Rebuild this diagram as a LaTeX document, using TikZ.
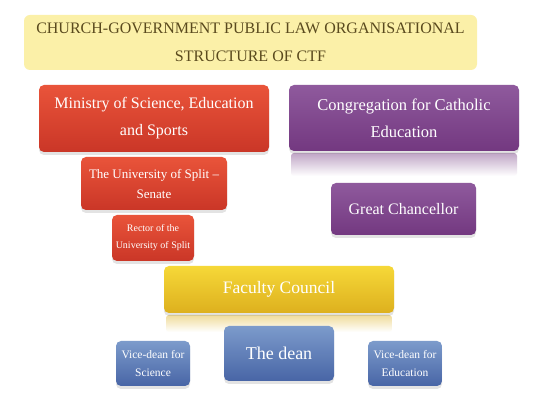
\documentclass[tikz,border=0pt]{standalone}
\usepackage{fontspec}
\setmainfont{Liberation Serif}
\usetikzlibrary{shadows}
\definecolor{titlefill}{HTML}{FBF0A8}
\definecolor{titletext}{HTML}{5A4A1E}
\definecolor{redtop}{HTML}{E9543A}
\definecolor{redbot}{HTML}{CA3627}
\definecolor{purtop}{HTML}{8F5A9D}
\definecolor{purbot}{HTML}{733880}
\definecolor{yeltop}{HTML}{F6D838}
\definecolor{yelbot}{HTML}{DDB01E}
\definecolor{blutop}{HTML}{7C9BCB}
\definecolor{blubot}{HTML}{4865A6}
\tikzset{
  box/.style={rounded corners=5pt, align=center, text=white, inner sep=0pt,
    drop shadow={opacity=0.22, shadow xshift=0pt, shadow yshift=-3pt}},
  redbox/.style={box, top color=redtop, bottom color=redbot},
  purbox/.style={box, top color=purtop, bottom color=purbot},
  yelbox/.style={box, top color=yeltop, bottom color=yelbot},
  blubox/.style={box, top color=blutop, bottom color=blubot}
}
\begin{document}
\begin{tikzpicture}[x=1pt, y=-1pt]
  \useasboundingbox[fill=white] (0,0) rectangle (555,411);
  % title
  \node[rounded corners=6pt, fill=titlefill, text=titletext, align=center,
    minimum width=453pt, minimum height=55pt, inner sep=0pt,
    font=\fontsize{16}{28}\selectfont] (title) at (250.5,42.5)
    {CHURCH-GOVERNMENT PUBLIC LAW ORGANISATIONAL\\STRUCTURE OF CTF};
  % reflections
  \shade[top color=purbot!45, bottom color=white, rounded corners=3pt]
    (291,153) rectangle (517,176);
  \shade[top color=yelbot!45, bottom color=white, rounded corners=3pt]
    (166,315) rectangle (392,332);
  % state side
  \node[redbox, minimum width=230pt, minimum height=67pt,
    font=\fontsize{16}{27}\selectfont] (ministry) at (154,118.5)
    {Ministry of Science, Education\\and Sports};
  \node[redbox, minimum width=146pt, minimum height=53pt,
    font=\fontsize{13}{20}\selectfont] (senate) at (154,183.5)
    {The University of Split --\\Senate};
  \node[redbox, minimum width=82pt, minimum height=46pt,
    font=\fontsize{10}{17}\selectfont] (rector) at (153,238)
    {Rector of the\\University of Split};
  % church side
  \node[purbox, minimum width=230pt, minimum height=66pt,
    font=\fontsize{16.5}{27}\selectfont] (congregation) at (404,118)
    {Congregation for Catholic\\Education};
  \node[purbox, minimum width=145pt, minimum height=52pt,
    font=\fontsize{16}{20}\selectfont] (chancellor) at (403.5,209)
    {Great Chancellor};
  % faculty
  \node[yelbox, minimum width=230pt, minimum height=47pt,
    font=\fontsize{17.5}{20}\selectfont] (council) at (279,289.5)
    {Faculty Council};
  \node[blubox, minimum width=110pt, minimum height=55pt,
    font=\fontsize{18}{20}\selectfont] (dean) at (279,353.5)
    {The dean};
  \node[blubox, minimum width=74pt, minimum height=45pt,
    font=\fontsize{11.5}{18}\selectfont] (vscience) at (153,363.5)
    {Vice-dean for\\Science};
  \node[blubox, minimum width=74pt, minimum height=45pt,
    font=\fontsize{11.5}{18}\selectfont] (veducation) at (405,363.5)
    {Vice-dean for\\Education};
\end{tikzpicture}
\end{document}
